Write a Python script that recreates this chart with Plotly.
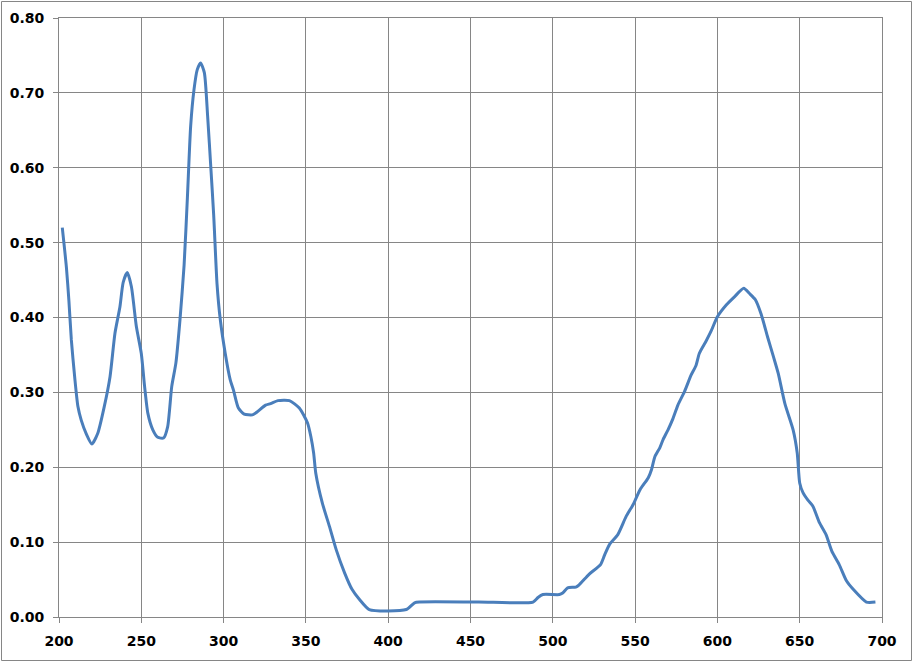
import plotly.graph_objects as go

# wavelength (nm) and absorbance
wavelength = [
    202, 204.5, 206, 207.5, 209.5, 211.5, 213.5, 216.5, 220, 223.5, 227.5,
    231, 234, 237, 239, 241.5, 244, 247, 250, 252, 254, 257, 260, 263.5,
    266, 268.5, 271, 273.5, 276, 278, 280, 282, 284, 286, 288.3, 290.3,
    292.3, 294, 296, 298, 301, 304, 306, 309, 312.5, 317.5, 320.5, 325.5,
    328.5, 333, 340, 346, 351, 353, 354.7, 356, 360, 364.3, 368.4, 373.5,
    378, 382.7, 388.5, 411, 416, 419, 455, 488, 491, 494, 504, 506, 509,
    514, 516, 522, 529, 531.5, 534.5, 539.5, 544.5, 549, 553, 558, 560,
    562, 565, 567, 570, 573, 576, 580, 584, 587, 589, 593, 596, 600, 605.5,
    610.5, 616, 619.5, 623, 626.5, 630.5, 634, 637, 641, 646, 648.5, 650,
    652, 655, 658, 662, 666, 669.5, 674, 678.5, 682.5, 690.5, 696,
]
absorbance = [
    0.52, 0.467, 0.423, 0.37, 0.321, 0.281, 0.263, 0.245, 0.231, 0.245,
    0.281, 0.321, 0.379, 0.414, 0.447, 0.46, 0.441, 0.388, 0.352, 0.308,
    0.272, 0.25, 0.24, 0.239, 0.254, 0.308, 0.339, 0.397, 0.47, 0.56,
    0.656, 0.704, 0.731, 0.74, 0.727, 0.669, 0.598, 0.536, 0.445, 0.397,
    0.352, 0.317, 0.303, 0.279, 0.271, 0.27, 0.274, 0.283, 0.285, 0.289,
    0.289, 0.279, 0.259, 0.241, 0.219, 0.192, 0.152, 0.121, 0.09, 0.059,
    0.037, 0.023, 0.01, 0.01, 0.019, 0.02, 0.02, 0.02, 0.026, 0.03, 0.03,
    0.032, 0.039, 0.04, 0.043, 0.057, 0.07, 0.083, 0.097, 0.11, 0.134,
    0.151, 0.17, 0.186, 0.197, 0.214, 0.226, 0.237, 0.25, 0.265, 0.283,
    0.301, 0.323, 0.336, 0.352, 0.368, 0.381, 0.401, 0.417, 0.428, 0.439,
    0.432, 0.424, 0.405, 0.374, 0.348, 0.325, 0.285, 0.25, 0.219, 0.179,
    0.166, 0.156, 0.148, 0.126, 0.11, 0.088, 0.07, 0.048, 0.037, 0.02, 0.02,
]

x_ticks = [200, 250, 300, 350, 400, 450, 500, 550, 600, 650, 700]
y_ticks = [0.0, 0.1, 0.2, 0.3, 0.4, 0.5, 0.6, 0.7, 0.8]

W, H = 913, 662
ml, mr, mt, mb = 59, 31, 18, 45

fig = go.Figure()
fig.add_trace(
    go.Scatter(
        x=wavelength,
        y=absorbance,
        mode="lines",
        line=dict(color="#4a7ebb", width=3, shape="spline", smoothing=0.6),
        showlegend=False,
    )
)

grid = "#868686"
axis_style = dict(
    showgrid=True,
    gridcolor=grid,
    gridwidth=1,
    showline=True,
    linecolor=grid,
    linewidth=1,
    mirror=True,
    ticks="outside",
    ticklen=5,
    tickcolor=grid,
    zeroline=False,
    ticklabelstandoff=6,
)
fig.update_xaxes(
    range=[200, 700],
    tickvals=x_ticks,
    ticktext=[str(v) for v in x_ticks],
    **axis_style,
)
fig.update_yaxes(
    range=[0, 0.8],
    tickvals=y_ticks,
    ticktext=[f"{v:.2f}" for v in y_ticks],
    **axis_style,
)

pw, ph = W - ml - mr, H - mt - mb
# chart-area border like the spreadsheet export
fig.add_shape(
    type="rect",
    xref="paper",
    yref="paper",
    x0=-(ml - 1.5) / pw,
    x1=1 + (mr - 1.5) / pw,
    y0=-(mb - 1.5) / ph,
    y1=1 + (mt - 1.5) / ph,
    line=dict(color="#868686", width=1),
    layer="below",
)

fig.update_layout(
    width=W,
    height=H,
    margin=dict(l=ml, r=mr, t=mt, b=mb, autoexpand=False),
    paper_bgcolor="white",
    plot_bgcolor="white",
    font=dict(family="DejaVu Sans", size=14, color="black", weight="bold"),
)

# drop the page's default body margin so the figure sits at the window's corner
fig.write_html(
    "out.html",
    config={"displayModeBar": False},
    post_script="document.body.style.margin='0';",
)
